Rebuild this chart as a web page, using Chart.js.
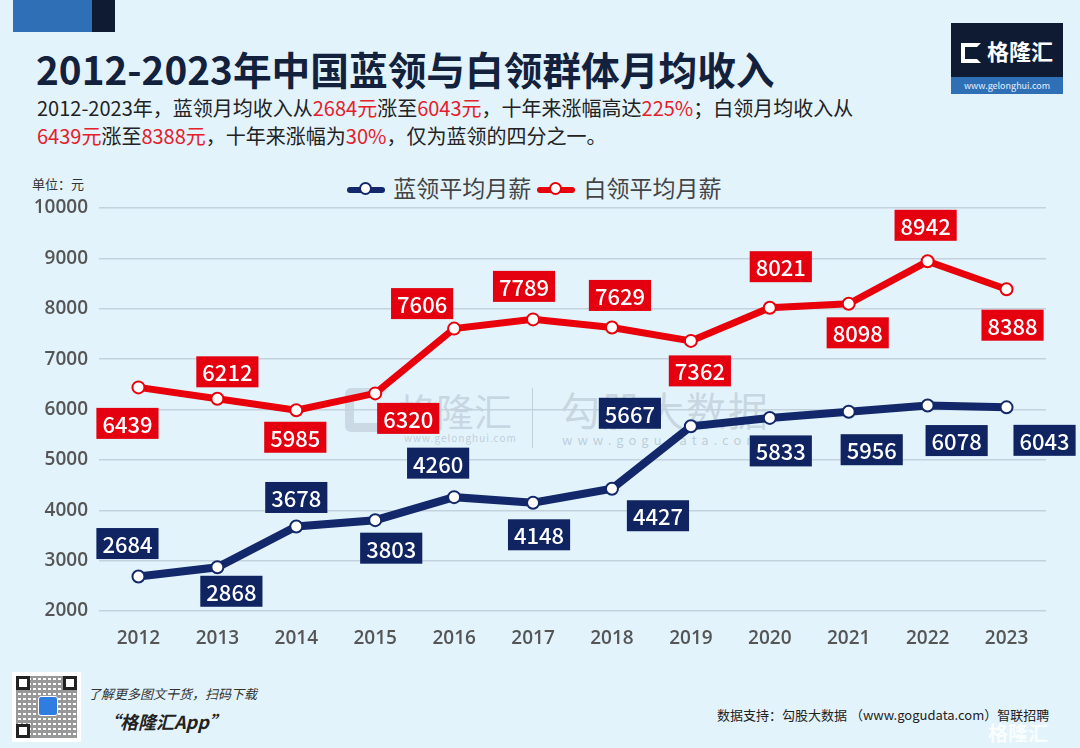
<!DOCTYPE html>
<html>
<head>
<meta charset="utf-8">
<script src="https://cdn.jsdelivr.net/npm/chart.js@4"></script>
<style>
  body { margin: 0; background: #e2f3fc; }
  #wrap { position: relative; width: 1080px; height: 748px; overflow: hidden; background: #e2f3fc;
          font-family: "Noto Sans CJK SC", "Noto Sans", sans-serif; }
  #chart { position: absolute; left: 0; top: 0; z-index: 2; }
  .abs { position: absolute; white-space: nowrap; }
  .red { color: #e5202a; }
</style>
</head>
<body>
<div id="wrap">
  <!-- top-left colour bar -->
  <div class="abs" style="left:13px;top:0;width:79px;height:32px;background:#2f6fb5;"></div>
  <div class="abs" style="left:92px;top:0;width:23px;height:32px;background:#0f1a33;"></div>

  <div class="abs" style="left:36px;top:40px;font-size:38.7px;font-weight:700;color:#13213d;">2012-2023年中国蓝领与白领群体月均收入</div>
  <div class="abs" style="left:37px;top:94px;font-size:20px;color:#222;line-height:28px;">
    2012-2023年，蓝领月均收入从<span class="red">2684元</span>涨至<span class="red">6043元</span>，十年来涨幅高达<span class="red">225%</span>；白领月均收入从<br>
    <span class="red">6439元</span>涨至<span class="red">8388元</span>，十年来涨幅为<span class="red">30%</span>，仅为蓝领的四分之一。
  </div>

  <!-- logo -->
  <div class="abs" style="left:951px;top:23px;width:112px;height:54px;background:#0f1a33;color:#fff;font-size:22px;font-weight:700;line-height:54px;text-align:center;">
    <span style="display:inline-block;width:20px;height:20px;border:4px solid #fff;border-right-color:transparent;box-sizing:border-box;vertical-align:-3px;margin-right:6px;"></span>格隆汇</div>
  <div class="abs" style="left:951px;top:77px;width:112px;height:17px;background:#2f6fb5;color:#e8f0ff;font-size:9px;line-height:17px;text-align:center;">www.gelonghui.com</div>

  <div class="abs" style="left:32px;top:174px;font-size:13px;color:#333;">单位：元</div>

  <!-- legend -->
  <div class="abs" style="left:347px;top:171px;font-size:23px;color:#444;line-height:32px;">
    <span style="display:inline-block;position:relative;width:38px;height:10px;vertical-align:2px;">
      <span style="position:absolute;left:0;top:2px;width:38px;height:6px;background:#12286a;border-radius:3px;"></span>
      <span style="position:absolute;left:12px;top:-3px;width:13px;height:13px;border:2px solid #12286a;border-radius:50%;background:#fff;box-sizing:border-box;"></span>
    </span>
    <span style="margin-left:3px;">蓝领平均月薪</span>
    <span style="display:inline-block;position:relative;width:38px;height:10px;vertical-align:2px;margin-left:1px;">
      <span style="position:absolute;left:0;top:2px;width:38px;height:6px;background:#e8000b;border-radius:3px;"></span>
      <span style="position:absolute;left:12px;top:-3px;width:13px;height:13px;border:2px solid #e8000b;border-radius:50%;background:#fff;box-sizing:border-box;"></span>
    </span>
    <span style="margin-left:3px;">白领平均月薪</span>
  </div>

  <!-- watermark -->
  <div class="abs" style="left:345px;top:388px;width:44px;height:44px;border:9px solid rgba(120,130,140,0.22);border-right-color:transparent;box-sizing:border-box;border-radius:6px;"></div>
  <div class="abs" style="left:398px;top:382px;font-size:38px;color:rgba(120,130,140,0.25);">格隆汇</div>
  <div class="abs" style="left:404px;top:430px;font-size:10px;color:rgba(120,130,140,0.35);letter-spacing:1px;">www.gelonghui.com</div>
  <div class="abs" style="left:532px;top:388px;width:1px;height:60px;background:rgba(120,130,140,0.3);"></div>
  <div class="abs" style="left:560px;top:380px;font-size:40px;color:rgba(120,130,140,0.25);letter-spacing:2px;">勾股大数据</div>
  <div class="abs" style="left:562px;top:430px;font-size:13px;color:rgba(120,130,140,0.35);letter-spacing:5px;">www.gogudata.com</div>

  <!-- footer -->
  <div class="abs" style="left:12px;top:672px;width:69px;height:70px;background:#fff;"></div>
  <div class="abs" style="left:16px;top:676px;width:61px;height:62px;background:repeating-linear-gradient(90deg,#333 0 2px,transparent 2px 5px),repeating-linear-gradient(0deg,#333 0 3px,#fff 3px 5px);opacity:0.5;"></div>
  <div class="abs" style="left:16px;top:676px;width:14px;height:14px;border:3px solid #222;box-sizing:border-box;background:#fff;"></div>
  <div class="abs" style="left:63px;top:676px;width:14px;height:14px;border:3px solid #222;box-sizing:border-box;background:#fff;"></div>
  <div class="abs" style="left:16px;top:724px;width:14px;height:14px;border:3px solid #222;box-sizing:border-box;background:#fff;"></div>
  <div class="abs" style="left:38px;top:696px;width:18px;height:18px;background:#2f7de1;border-radius:3px;border:1px solid #fff;"></div>
  <div class="abs" style="left:88px;top:684px;font-size:13px;font-style:italic;color:#333;">了解更多图文干货，扫码下载</div>
  <div class="abs" style="left:102px;top:708px;font-size:18px;font-style:italic;font-weight:700;color:#222;">“格隆汇App”</div>
  <div class="abs" style="left:717px;top:705px;font-size:13px;color:#222;">数据支持：勾股大数据 （www.gogudata.com）智联招聘</div>
  <div class="abs" style="left:988px;top:718px;font-size:20px;font-weight:700;color:rgba(255,255,255,0.85);">格隆汇</div>

  <canvas id="chart" width="1080" height="748"></canvas>
</div>

<script>
const years = ['2012', '2013', '2014', '2015', '2016', '2017', '2018', '2019', '2020', '2021', '2022', '2023'];
const blueCollar = [2684, 2868, 3678, 3803, 4260, 4148, 4427, 5667, 5833, 5956, 6078, 6043];
const whiteCollar = [6439, 6212, 5985, 6320, 7606, 7789, 7629, 7362, 8021, 8098, 8942, 8388];
const yTicks = [2000, 3000, 4000, 5000, 6000, 7000, 8000, 9000, 10000];

// where each value box sits relative to its point (dx, dy)
const blueLabelPos = [[-11, -33], [14, 24], [0, -29], [16, 28], [-16, -34], [6, 32],
                      [46, 27], [-61, -13], [11, 33], [23, 38], [29, 35], [38, 33]];
const whiteLabelPos = [[-11, 36], [10, -27], [-1, 27], [33, 25], [-32, -25], [-9, -33],
                       [8, -32], [9, 30], [11, -41], [9, 29], [-2, -36], [6, 36]];

const boxLabels = {
  id: 'boxLabels',
  afterDatasetsDraw(chart) {
    const ctx = chart.ctx;
    ctx.save();
    ctx.font = '500 22px "Noto Sans CJK SC", "Noto Sans", sans-serif';
    ctx.textAlign = 'center';
    ctx.textBaseline = 'middle';
    chart.data.datasets.forEach((ds, i) => {
      const meta = chart.getDatasetMeta(i);
      meta.data.forEach((pt, j) => {
        const [dx, dy] = ds.labelPos[j];
        const cx = pt.x + dx, cy = pt.y + dy;
        const txt = String(ds.data[j]);
        const w = ctx.measureText(txt).width + 12, h = 31;
        ctx.fillStyle = ds.boxColor;
        ctx.fillRect(cx - w / 2, cy - h / 2, w, h);
        ctx.fillStyle = '#fff';
        ctx.fillText(txt, cx, cy + 1);
      });
    });
    ctx.restore();
  }
};

new Chart(document.getElementById('chart'), {
  type: 'line',
  data: {
    labels: years,
    datasets: [
      {
        label: '白领平均月薪',
        data: whiteCollar,
        borderColor: '#e8000b',
        borderWidth: 7,
        pointRadius: 6,
        pointBorderWidth: 2,
        pointBackgroundColor: '#fff',
        pointBorderColor: '#e8000b',
        tension: 0,
        boxColor: '#e4000f',
        labelPos: whiteLabelPos,
      },
      {
        label: '蓝领平均月薪',
        data: blueCollar,
        borderColor: '#12286a',
        borderWidth: 8,
        pointRadius: 6,
        pointBorderWidth: 2,
        pointBackgroundColor: '#fff',
        pointBorderColor: '#12286a',
        tension: 0,
        boxColor: '#0f2460',
        labelPos: blueLabelPos,
      }
    ]
  },
  options: {
    responsive: false,
    animation: false,
    layout: { padding: { top: 208, right: 34, left: 0, bottom: 0 } },
    plugins: {
      legend: { display: false },
      tooltip: { enabled: false }
    },
    scales: {
      x: {
        offset: true,
        grid: { display: false },
        border: { display: false },
        ticks: {
          color: '#555',
          padding: 8,
          font: { family: '"Open Sans", "Noto Sans", sans-serif', size: 19, weight: '600' }
        },
        afterFit(scale) { scale.height = 137; }
      },
      y: {
        min: 2000,
        max: 10000,
        afterBuildTicks(scale) { scale.ticks = yTicks.map(v => ({ value: v })); },
        grid: { color: '#c3d2dc', lineWidth: 1.5, drawTicks: false },
        border: { display: false },
        ticks: {
          color: '#555',
          padding: 11,
          font: { family: '"Open Sans", "Noto Sans", sans-serif', size: 19, weight: '600' },
          callback: v => String(v)
        },
        afterFit(scale) { scale.width = 99; }
      }
    }
  },
  plugins: [boxLabels]
});
</script>
</body>
</html>
